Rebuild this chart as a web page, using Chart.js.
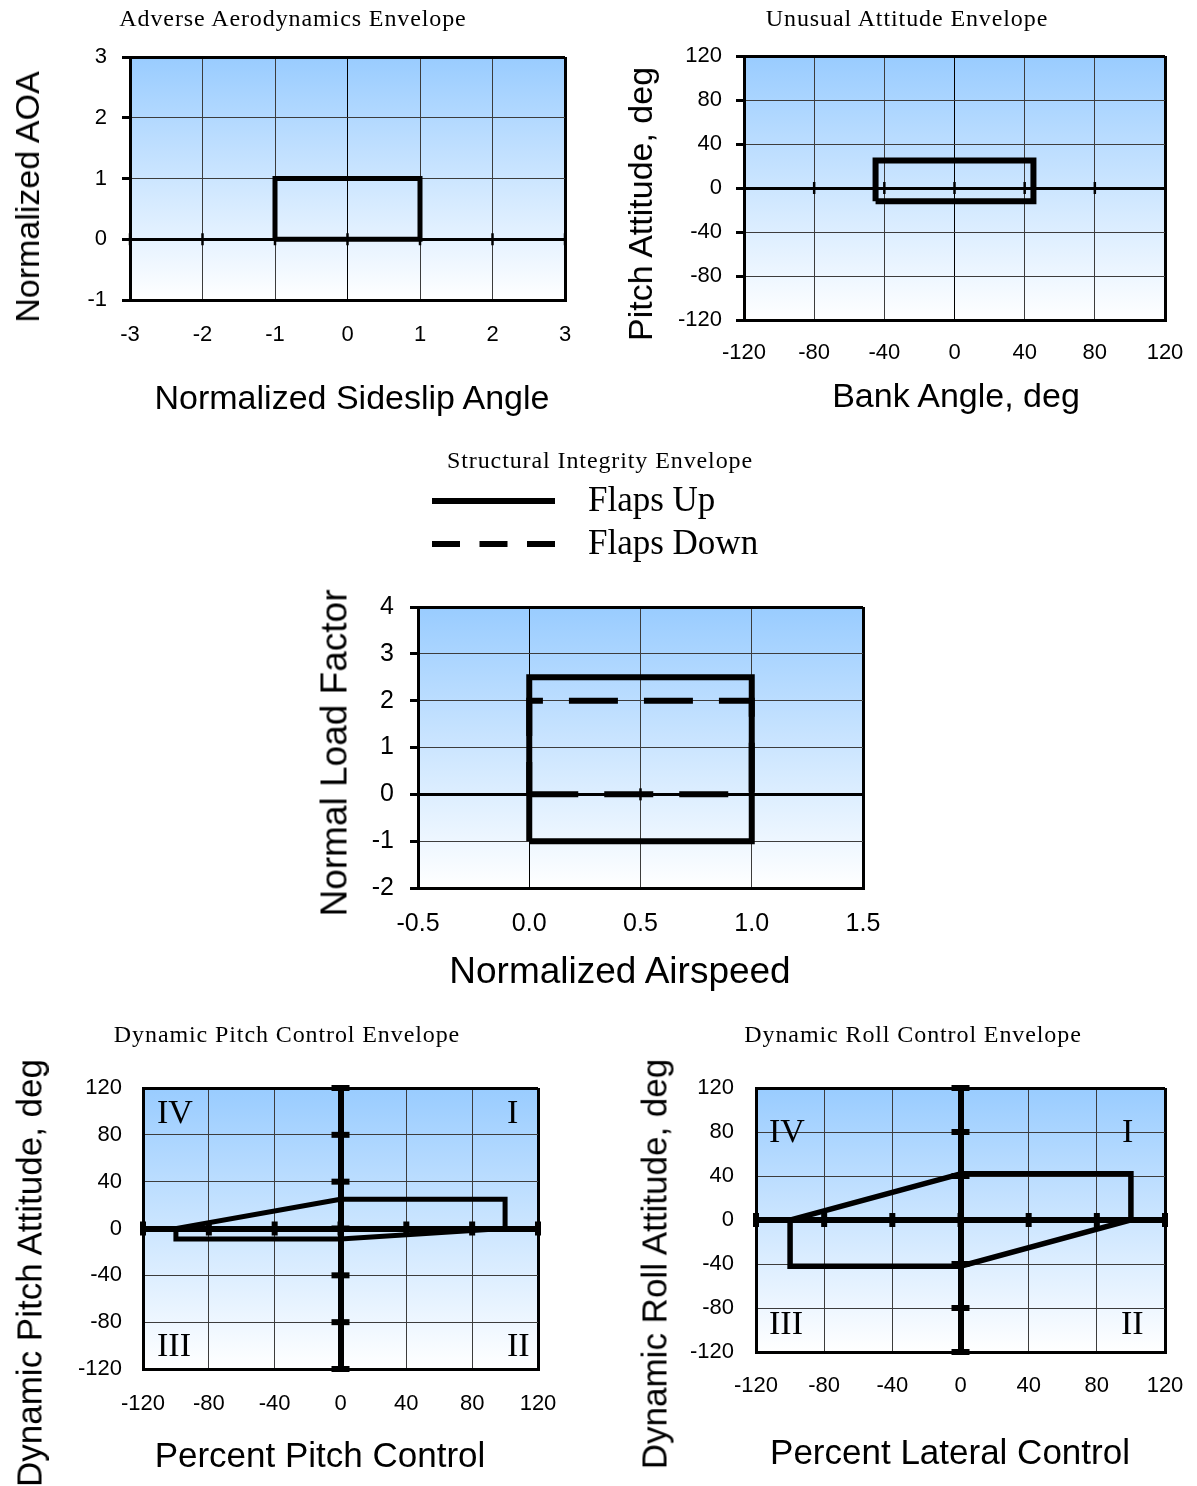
<!DOCTYPE html>
<html>
<head>
<meta charset="utf-8">
<title>Flight envelopes</title>
<script src="https://cdn.jsdelivr.net/npm/chart.js@4.4.1/dist/chart.umd.min.js"></script>
<style>
  html, body { margin: 0; padding: 0; background: #fff; }
  #page { position: relative; width: 1197px; height: 1486px; overflow: hidden; }
  #page canvas { position: absolute; left: 0; top: 0; }
  .t { position: absolute; white-space: nowrap; transform: translate(-50%, -50%); color: #000; line-height: 1; }
  .ttl { font-family: "Liberation Serif", serif; font-size: 24px; letter-spacing: 0.9px; }
  .ax { font-family: "Liberation Sans", Arial, sans-serif; font-size: 34px; }
  .big { font-size: 37px; }
  .mid { font-size: 35px; }
  .rot { transform: translate(-50%, -50%) rotate(-90deg); }
  .q { position: absolute; white-space: nowrap; transform: translate(0, -50%); font-family: "Liberation Serif", serif; font-size: 34px; line-height: 1; }
</style>
</head>
<body>
<div id="page">
  <canvas id="aero" width="1197" height="1486"></canvas>
  <canvas id="attitude" width="1197" height="1486"></canvas>
  <canvas id="load" width="1197" height="1486"></canvas>
  <canvas id="pitch" width="1197" height="1486"></canvas>
  <canvas id="roll" width="1197" height="1486"></canvas>

  <!-- chart titles -->
  <div class="t ttl" style="left:293px; top:18px">Adverse Aerodynamics Envelope</div>
  <div class="t ttl" style="left:907px; top:18px">Unusual Attitude Envelope</div>
  <div class="t ttl" style="left:600px; top:460px">Structural Integrity Envelope</div>
  <div class="t ttl" style="left:287px; top:1034px">Dynamic Pitch Control Envelope</div>
  <div class="t ttl" style="left:913px; top:1034px">Dynamic Roll Control Envelope</div>

  <!-- axis titles -->
  <div class="t ax" style="left:352px; top:397px">Normalized Sideslip Angle</div>
  <div class="t ax rot" style="left:27px; top:197px">Normalized AOA</div>
  <div class="t ax" style="left:956px; top:395px">Bank Angle, deg</div>
  <div class="t ax rot" style="left:640px; top:204px">Pitch Attitude, deg</div>
  <div class="t ax big" style="left:620px; top:970px">Normalized Airspeed</div>
  <div class="t ax big rot" style="left:334px; top:753px">Normal Load Factor</div>
  <div class="t ax mid" style="left:320px; top:1454px">Percent Pitch Control</div>
  <div class="t ax mid rot" style="left:29px; top:1273px">Dynamic Pitch Attitude, deg</div>
  <div class="t ax mid" style="left:950px; top:1451px">Percent Lateral Control</div>
  <div class="t ax mid rot" style="left:654px; top:1264px">Dynamic Roll Attitude, deg</div>

  <!-- quadrant numbers -->
  <div class="q" style="left:157px; top:1112px">IV</div>
  <div class="q" style="left:507px; top:1112px">I</div>
  <div class="q" style="left:157px; top:1345px">III</div>
  <div class="q" style="left:507px; top:1345px">II</div>
  <div class="q" style="left:769px; top:1131px">IV</div>
  <div class="q" style="left:1122px; top:1131px">I</div>
  <div class="q" style="left:769px; top:1323px">III</div>
  <div class="q" style="left:1121px; top:1323px">II</div>
</div>

<script>
// ----------------------------------------------------------------
// Data
// ----------------------------------------------------------------

// Adverse aerodynamics: sideslip vs AOA
const aeroXTicks = [-3, -2, -1, 0, 1, 2, 3];
const aeroYTicks = [-1, 0, 1, 2, 3];
const aeroBoxX   = [-1, -1, 1, 1, -1];
const aeroBoxY   = [0, 1, 1, 0, 0];

// Unusual attitude: bank vs pitch
const attXTicks = [-120, -80, -40, 0, 40, 80, 120];
const attYTicks = [-120, -80, -40, 0, 40, 80, 120];
const attBoxX   = [-45, -45, 45, 45, -45];
const attBoxY   = [-12, 25, 25, -12, -12];

// Structural integrity: airspeed vs load factor
const loadXTicks  = [-0.5, 0, 0.5, 1, 1.5];
const loadYTicks  = [-2, -1, 0, 1, 2, 3, 4];
const flapsLabels = ["Flaps Up", "Flaps Down"];
const flapsUpX    = [0, 0, 1, 1, 0];
const flapsUpY    = [-1, 2.5, 2.5, -1, -1];
const flapsDownX  = [0, 1, 1, 0, 0];
const flapsDownY  = [0, 0, 2, 2, 0];

// Dynamic pitch / roll control
const ctrlTicks = [-120, -80, -40, 0, 40, 80, 120];
const pitchX    = [0, 100, 100, 0, -100, -100, 0];
const pitchY    = [25, 25, 0, -9, -9, 0, 25];
const rollX     = [0, 100, 100, 0, -100, -100, 0];
const rollY     = [42, 42, 0, -42, -42, 0, 42];


// ----------------------------------------------------------------
// Shared bits
// ----------------------------------------------------------------

const PAGE_W = 1197, PAGE_H = 1486;
Chart.defaults.font.family = '"Liberation Sans", Arial, sans-serif';
Chart.defaults.color = "#000";

const pts = (xs, ys) => xs.map((x, i) => ({ x, y: ys[i] }));

// light blue -> white fill behind the plot area
const skyPlugin = {
  id: "sky",
  beforeDraw(chart) {
    const a = chart.chartArea, c = chart.ctx;
    const g = c.createLinearGradient(0, a.top, 0, a.bottom);
    g.addColorStop(0, "#99ccff");
    g.addColorStop(1, "#ffffff");
    c.save();
    c.fillStyle = g;
    c.fillRect(a.left, a.top, a.right - a.left, a.bottom - a.top);
    c.restore();
  },
};

// legend drawn from the dataset labels / legendDash (structural chart only)
const flapsLegend = {
  id: "flapsLegend",
  afterDraw(chart) {
    const c = chart.ctx;
    flapsLabels.forEach((name, i) => {
      const d = chart.data.datasets.find(ds => ds.label === name);
      if (!d) return;
      const y = 501 + i * 43;
      c.save();
      c.strokeStyle = "#000";
      c.lineWidth = 6;
      c.setLineDash(d.legendDash || []);
      c.beginPath();
      c.moveTo(432, y);
      c.lineTo(555, y);
      c.stroke();
      c.setLineDash([]);
      c.fillStyle = "#000";
      c.font = '35px "Liberation Serif", serif';
      c.textBaseline = "middle";
      c.fillText(d.label, 588, y + 1);
      c.restore();
    });
  },
};

function envelope(label, xs, ys, width, dash) {
  return {
    label,
    data: pts(xs, ys),
    showLine: true,
    borderColor: "#000",
    borderWidth: width,
    borderDash: dash || [],
    borderJoinStyle: "miter",
    pointRadius: 0,
    fill: false,
    clip: false,
  };
}

// little cross marks sitting on the zero axes
function marks(xs, ys, len, width, rot) {
  return {
    label: "",
    data: pts(xs, ys),
    showLine: false,
    pointStyle: "line",
    pointRadius: len,
    pointHoverRadius: len,
    pointBorderWidth: width,
    pointBorderColor: "#000",
    pointRotation: rot,
    clip: false,
  };
}

function gridStyle(ticks, zeroW) {
  const lo = ticks[0], hi = ticks[ticks.length - 1];
  return {
    lineWidth: ctx => {
      const v = ctx.tick ? ctx.tick.value : null;
      if (v === lo || v === hi) return 3;
      return v === 0 ? zeroW : 1;
    },
    color: ctx => {
      const v = ctx.tick ? ctx.tick.value : null;
      return (v === lo || v === hi || v === 0) ? "#000" : "#3c3c3c";
    },
  };
}

function envelopeChart(id, o) {
  const [L, T, R, B] = o.plot;
  const yW = 100, xH = 70;
  const fmt = o.fmt || (v => String(v));

  return new Chart(document.getElementById(id), {
    type: "scatter",
    data: { datasets: o.datasets },
    options: {
      responsive: false,
      animation: false,
      events: [],
      layout: { padding: { left: L - yW, top: T, right: PAGE_W - R, bottom: PAGE_H - B - xH } },
      plugins: { legend: { display: false }, tooltip: { enabled: false } },
      scales: {
        x: {
          type: "linear",
          position: "bottom",
          min: o.xTicks[0],
          max: o.xTicks[o.xTicks.length - 1],
          afterBuildTicks: s => { s.ticks = o.xTicks.map(v => ({ value: v })); },
          afterFit: s => { s.height = xH; s.paddingLeft = 0; s.paddingRight = 0; },
          grid: Object.assign({ drawTicks: false }, gridStyle(o.xTicks, o.zeroX)),
          border: { display: true, width: 3, color: "#000" },
          ticks: {
            autoSkip: false, maxRotation: 0, padding: o.xPad,
            font: { size: o.font }, color: "#000",
            callback: v => fmt(v),
          },
        },
        y: {
          type: "linear",
          position: "left",
          min: o.yTicks[0],
          max: o.yTicks[o.yTicks.length - 1],
          afterBuildTicks: s => { s.ticks = o.yTicks.map(v => ({ value: v })); },
          afterFit: s => { s.width = yW; s.paddingTop = 0; s.paddingBottom = 0; },
          grid: Object.assign({
            drawTicks: o.yTickLen > 0,
            tickLength: o.yTickLen,
            tickWidth: 3,
            tickColor: "#000",
          }, gridStyle(o.yTicks, o.zeroY)),
          border: { display: true, width: 3, color: "#000" },
          ticks: {
            autoSkip: false, padding: o.yPad,
            font: { size: o.font }, color: "#000",
            callback: v => String(v),
          },
        },
      },
    },
    plugins: [skyPlugin].concat(o.extra || []),
  });
}


// ----------------------------------------------------------------
// The five envelopes
// ----------------------------------------------------------------

envelopeChart("aero", {
  plot: [130, 57, 565, 300],
  xTicks: aeroXTicks, yTicks: aeroYTicks,
  zeroX: 1, zeroY: 3,
  font: 22, xPad: 22, yPad: 15, yTickLen: 8,
  datasets: [
    marks(aeroXTicks, aeroXTicks.map(() => 0), 6, 2.5, 90),
    envelope("Envelope", aeroBoxX, aeroBoxY, 5),
  ],
});

envelopeChart("attitude", {
  plot: [744, 56, 1165, 320],
  xTicks: attXTicks, yTicks: attYTicks,
  zeroX: 1, zeroY: 3,
  font: 22, xPad: 20, yPad: 14, yTickLen: 8,
  datasets: [
    marks(attXTicks.slice(1, -1), attXTicks.slice(1, -1).map(() => 0), 6, 2.5, 90),
    envelope("Envelope", attBoxX, attBoxY, 6),
  ],
});

envelopeChart("load", {
  plot: [418, 607, 863, 888],
  xTicks: loadXTicks, yTicks: loadYTicks,
  zeroX: 1, zeroY: 3,
  font: 25, xPad: 21, yPad: 16, yTickLen: 8,
  fmt: v => v.toFixed(1),
  extra: [flapsLegend],
  datasets: [
    marks([0.5], [0], 6, 2.5, 90),
    Object.assign(envelope(flapsLabels[1], flapsDownX, flapsDownY, 6, [49, 26]), { legendDash: [28, 19.5] }),
    Object.assign(envelope(flapsLabels[0], flapsUpX, flapsUpY, 6), { legendDash: [] }),
  ],
});

envelopeChart("pitch", {
  plot: [143, 1088, 538, 1369],
  xTicks: ctrlTicks, yTicks: ctrlTicks,
  zeroX: 6, zeroY: 6,
  font: 22, xPad: 22, yPad: 21, yTickLen: 0,
  datasets: [
    marks(ctrlTicks, ctrlTicks.map(() => 0), 7, 6, 90),
    marks(ctrlTicks.map(() => 0), ctrlTicks, 9, 6, 0),
    envelope("Envelope", pitchX, pitchY, 5),
  ],
});

envelopeChart("roll", {
  plot: [756, 1088, 1165, 1352],
  xTicks: ctrlTicks, yTicks: ctrlTicks,
  zeroX: 6, zeroY: 6,
  font: 22, xPad: 21, yPad: 22, yTickLen: 0,
  datasets: [
    marks(ctrlTicks, ctrlTicks.map(() => 0), 7, 6, 90),
    marks(ctrlTicks.map(() => 0), ctrlTicks, 9, 6, 0),
    envelope("Envelope", rollX, rollY, 5.5),
  ],
});
</script>
</body>
</html>
